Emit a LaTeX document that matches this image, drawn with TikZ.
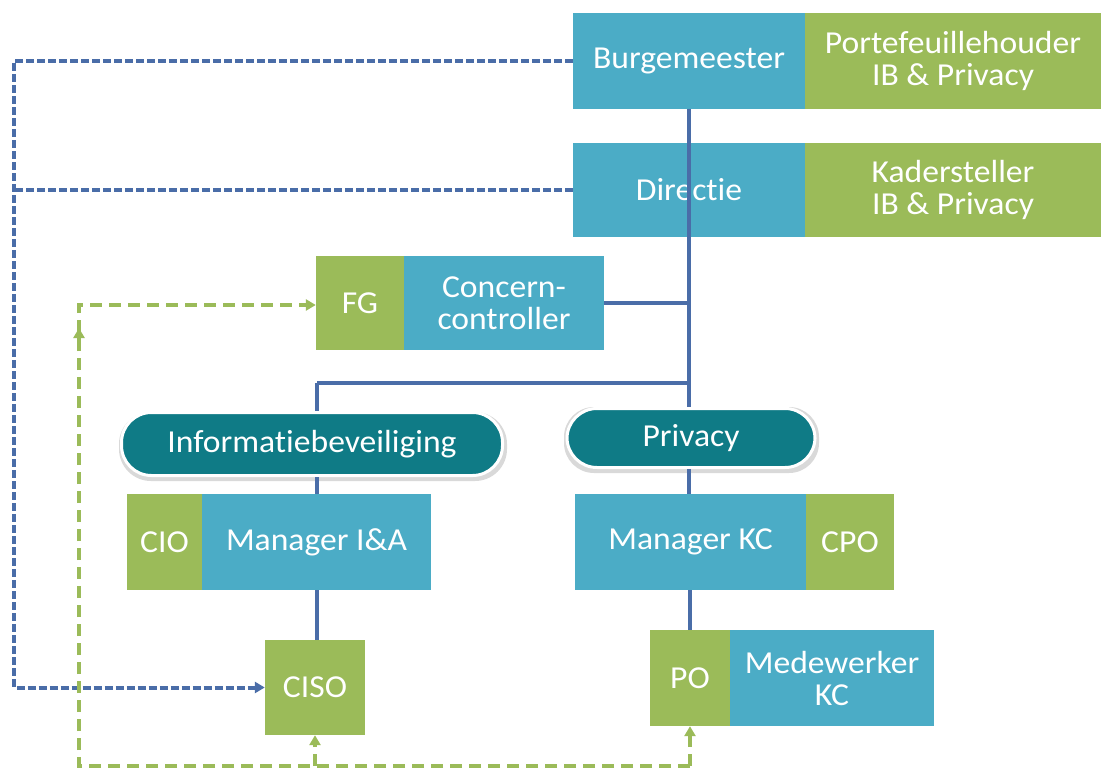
\documentclass[tikz,border=0pt]{standalone}
\usepackage{fontspec}
\setmainfont{Carlito}[Ligatures={NoCommon,NoContextual}, Contextuals=NoAlternate, RawFeature={-liga;-clig;-calt;-dlig}, FakeStretch=1.05]
\usetikzlibrary{arrows.meta}
\definecolor{cblue}{HTML}{4BACC6}
\definecolor{cgreen}{HTML}{9BBB59}
\definecolor{cteal}{HTML}{0F7B86}
\definecolor{cline}{HTML}{4A6DA8}
\tikzset{
  box/.style={rectangle, inner sep=0pt, text=white, align=center,
    font=\fontsize{32}{32}\selectfont},
  bbox/.style={box, fill=cblue},
  gbox/.style={box, fill=cgreen},
  pill/.style={rectangle, rounded corners=30pt, inner sep=0pt, fill=cteal, draw=white,
    line width=3pt, text=white, font=\fontsize{32}{32}\selectfont},
  solidcon/.style={draw=cline, line width=4pt},
  bluedash/.style={draw=cline, line width=4pt, dash pattern=on 8pt off 3pt},
  greendash/.style={draw=cgreen, line width=4pt, dash pattern=on 12pt off 7pt},
  tip/.style={-{Triangle[length=10pt,width=11pt]}}
}
\begin{document}
\begin{tikzpicture}[x=1pt,y=-1pt]
\useasboundingbox (0,0) rectangle (1101,772);
% top boxes
\node[bbox, minimum width=232pt, minimum height=96pt] (burg) at (689,61) {Burgemeester};
\node[gbox, minimum width=296pt, minimum height=96pt] (port) at (953,61) {Portefeuillehouder\\IB \& Privacy};
\node[bbox, minimum width=232pt, minimum height=94pt] (dir) at (689,190) {Direc\kern0pt tie};
\node[gbox, minimum width=296pt, minimum height=94pt] (kad) at (953,190) {Kadersteller\\IB \& Privacy};
% FG / concern controller
\node[gbox, minimum width=88pt, minimum height=94pt] (fg) at (360,303) {FG};
\node[bbox, minimum width=200pt, minimum height=94pt] (cc) at (504,303) {Concern-\\controller};
% pills
\fill[black!15, rounded corners=32pt] (119,412) rectangle (507,481);
\node[pill, minimum width=381pt, minimum height=63pt] (ib) at (312,444) {Informatiebeveiliging};
\fill[black!15, rounded corners=30pt] (564,407) rectangle (819,473);
\node[pill, minimum width=248pt, minimum height=59pt] (priv) at (691,438) {Privacy};
% managers
\node[gbox, minimum width=75pt, minimum height=96pt] (cio) at (164.5,542) {CIO};
\node[bbox, minimum width=229pt, minimum height=96pt] (mia) at (316.5,542) {Manager I\&A};
\node[bbox, minimum width=231pt, minimum height=96pt] (mkc) at (690.5,542) {Manager KC};
\node[gbox, minimum width=88pt, minimum height=96pt] (cpo) at (850,542) {CPO};
% bottom
\node[gbox, minimum width=100pt, minimum height=95pt] (ciso) at (315,687.5) {CISO};
\node[gbox, minimum width=80pt, minimum height=96pt] (po) at (690,678) {PO};
\node[bbox, minimum width=204pt, minimum height=96pt] (mwkc) at (832,678) {Medewerker\\KC};
% coordinates
\coordinate (jr) at (689,383);
\coordinate (jl) at (317,383);
\coordinate (jc) at (689,303);
% solid connectors
\draw[solidcon] (burg.south) -- (dir.south -| burg.south);
\draw[solidcon] (dir.south) -- (jr);
\draw[solidcon] (cc.east) -- (jc);
\draw[solidcon] (jl) -- (jr);
\draw[solidcon] (jl) -- (jl |- ib.north);
\draw[solidcon] (jr) -- (jr |- priv.north);
\draw[solidcon] (jl |- ib.south) -- (jl |- mia.north);
\draw[solidcon] (jr |- priv.south) -- (jr |- mkc.north);
\draw[solidcon] (mia.south) -- (mia.south |- ciso.north);
\draw[solidcon] (po.north |- mkc.south) -- (po.north);
% blue dashed
\coordinate (bl1) at (14,61);
\coordinate (bl2) at (14,687.5);
\coordinate (bl3) at (14,190);
\draw[bluedash, tip] (burg.west) -- (bl1) -- (bl2) -- (ciso.west);
\draw[bluedash] (dir.west) -- (bl3);
% green dashed
\coordinate (g1) at (79,766);
\coordinate (g2) at (79,305);
\coordinate (g3) at (690,766);
\coordinate (g4) at (315,766);
\coordinate (ga) at (79,350);
\coordinate (gb) at (79,328);
\draw[greendash, tip] (g3) -- (g1) -- (g2) -- (fg.west |- g2);
\draw[draw=cgreen, line width=4pt, tip] (ga) -- (gb);
\draw[greendash, tip] (g4) -- (ciso.south);
\draw[greendash, tip] (g3) -- (po.south);
\end{tikzpicture}
\end{document}
